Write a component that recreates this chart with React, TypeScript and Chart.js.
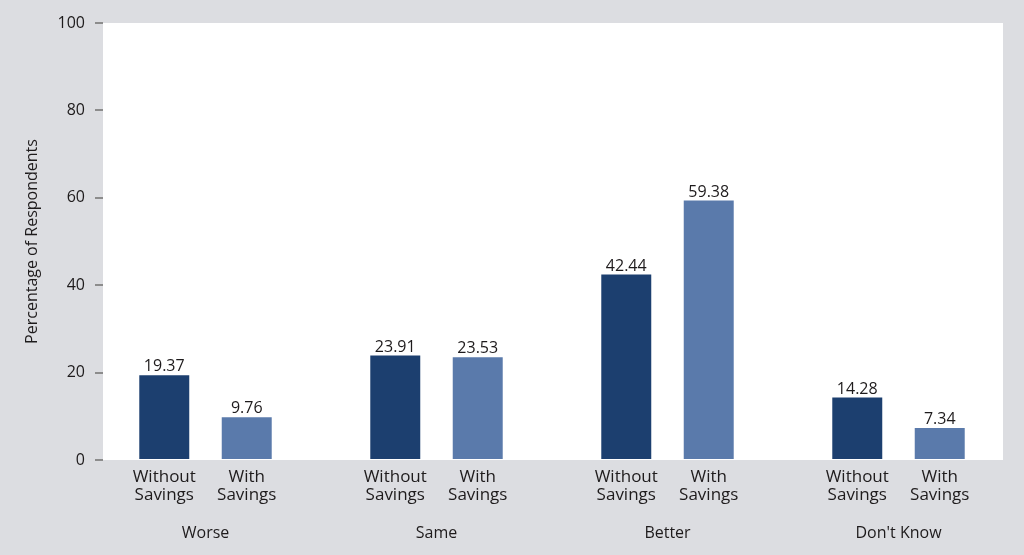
import React, { useEffect, useRef } from 'react';
import { Chart, registerables } from 'chart.js';

Chart.register(...registerables);

const categories = ['Worse', 'Same', 'Better', "Don't Know"];
const seriesNames = ['Without Savings', 'With Savings'];
const withoutSavings = [19.37, 23.91, 42.44, 14.28];
const withSavings = [9.76, 23.53, 59.38, 7.34];
const subLabelLines = [
  ['Without', 'Savings'],
  ['With', 'Savings'],
];
const yTitle = 'Percentage of Respondents';
const yMin = 0;
const yMax = 100;
const yStep = 20;

const FONT = '"Open Sans", "Noto Sans", sans-serif';
const TEXT = '#1e1b1c';
const BG = '#dcdde1';
const DARK = '#1c3f6f';
const LIGHT = '#5a7aab';

const panelPlugin = {
  id: 'panel',
  afterLayout(chart: any) {
    const x = chart.scales.x;
    const a = chart.chartArea;
    x.left = a.left - 13;
    x.right = a.right + 11;
    x.width = x.right - x.left;
    x.configure();
  },
  beforeDraw(chart: any) {
    const { ctx, chartArea: a } = chart;
    ctx.save();
    ctx.fillStyle = BG;
    ctx.fillRect(0, 0, chart.width, chart.height);
    ctx.fillStyle = '#ffffff';
    ctx.fillRect(a.left, a.top, a.right - a.left, a.bottom - a.top);
    ctx.restore();
  },
  afterDatasetsDraw(chart: any) {
    const { ctx, chartArea: a } = chart;
    ctx.save();
    ctx.fillStyle = TEXT;
    ctx.textAlign = 'center';
    ctx.textBaseline = 'alphabetic';
    chart.data.datasets.forEach((ds: any, di: number) => {
      const meta = chart.getDatasetMeta(di);
      meta.data.forEach((bar: any, i: number) => {
        const v = ds.data[i];
        ctx.font = `16px ${FONT}`;
        ctx.fillText(v.toFixed(2), bar.x, bar.y - 4);
        ctx.font = `17px ${FONT}`;
        const lines = subLabelLines[di];
        lines.forEach((t, li) => {
          ctx.fillText(t, bar.x, a.bottom + 22 + li * 18);
        });
      });
    });
    ctx.restore();
  },
};

export default function App() {
  const ref = useRef<HTMLCanvasElement | null>(null);
  useEffect(() => {
    document.body.style.margin = '0';
    const canvas = ref.current;
    if (!canvas) return;
    const chart = new Chart(canvas, {
      type: 'bar',
      data: {
        labels: categories,
        datasets: [
          {
            label: seriesNames[0],
            data: withoutSavings,
            backgroundColor: DARK,
            borderWidth: 0,
            categoryPercentage: 0.714,
            barPercentage: 0.606,
          },
          {
            label: seriesNames[1],
            data: withSavings,
            backgroundColor: LIGHT,
            borderWidth: 0,
            categoryPercentage: 0.714,
            barPercentage: 0.606,
          },
        ],
      },
      options: {
        responsive: false,
        animation: false,
        devicePixelRatio: 1,
        layout: { padding: { top: 23, right: 21, bottom: 0, left: 0 } },
        plugins: {
          legend: { display: false },
          tooltip: { enabled: false },
        },
        scales: {
          x: {
            grid: { display: false },
            border: { display: false },
            ticks: {
              color: TEXT,
              font: { family: FONT, size: 16 },
              padding: 56,
              maxRotation: 0,
              autoSkip: false,
            },
            afterFit(scale: any) {
              scale.height = 95;
            },
          },
          y: {
            min: yMin,
            max: yMax,
            grid: {
              display: true,
              drawOnChartArea: false,
              drawTicks: true,
              tickLength: 8,
              color: '#8c8c8c',
              lineWidth: 2,
            },
            border: { display: false },
            ticks: {
              stepSize: yStep,
              color: TEXT,
              font: { family: FONT, size: 16 },
              padding: 10,
            },
            title: {
              display: true,
              text: yTitle,
              color: TEXT,
              font: { family: FONT, size: 16 },
              padding: { top: 23, bottom: 0 },
            },
            afterFit(scale: any) {
              scale.width = 103;
            },
          },
        },
      },
      plugins: [panelPlugin],
    });
    return () => chart.destroy();
  }, []);
  return (
    <div style={{ width: 1024, height: 555, background: BG }}>
      <canvas ref={ref} width={1024} height={555} style={{ display: 'block' }} />
    </div>
  );
}
